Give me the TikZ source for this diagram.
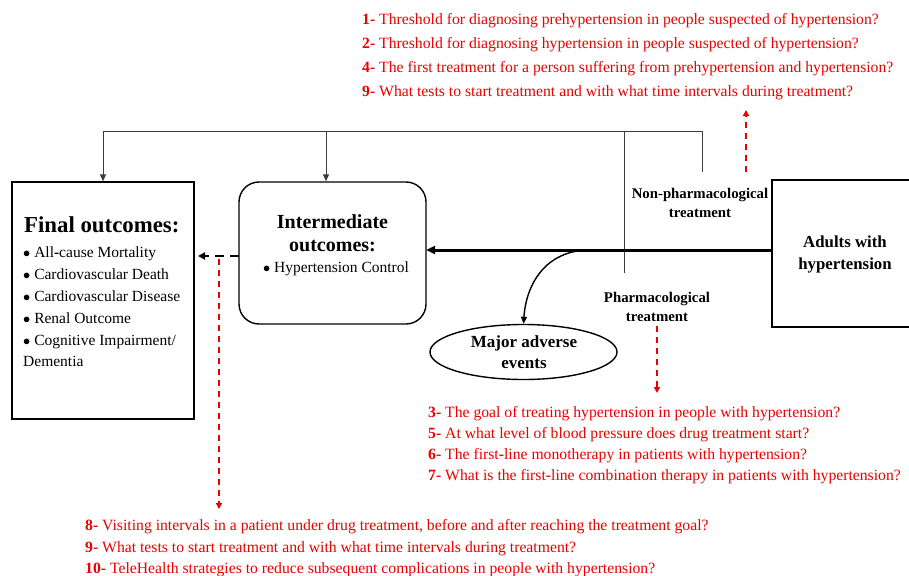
\documentclass[tikz,border=0pt]{standalone}
\usepackage{fontspec}
\setmainfont{Liberation Serif}
\usetikzlibrary{arrows.meta,shapes.geometric}
\definecolor{qred}{RGB}{235,0,0}
\definecolor{lgray}{RGB}{60,60,60}
\tikzset{
  qtext/.style={anchor=base west,inner sep=0pt,text=qred,font=\fontsize{15.7}{17}\selectfont},
  mtext/.style={anchor=base west,inner sep=0pt,text=qred,font=\fontsize{15.7}{17}\selectfont},
  btxt/.style={anchor=base west,inner sep=0pt,font=\fontsize{15.5}{17}\selectfont},
  boxline/.style={draw=black,line width=1.4pt},
  thin/.style={draw=lgray,line width=0.9pt},
  rdash/.style={draw=qred,line width=1.6pt,dash pattern=on 6pt off 5pt,-{Triangle[length=6pt,width=6pt]}},
  tip/.style={-{Triangle[length=7pt,width=6pt]}},
  lbl/.style={align=center,font=\bfseries\fontsize{14.8}{19}\selectfont,inner sep=0pt}
}
\newcommand{\bh}{\textbf{-}}
\begin{document}
\begin{tikzpicture}[x=1pt,y=-1pt]
\useasboundingbox (0,0) rectangle (909,575);
\fill[white] (0,0) rectangle (909,575);

% boxes
\node[boxline,rectangle,minimum width=182pt,minimum height=237pt,inner sep=0pt] (final) at (103,300.5) {};
\node[boxline,rectangle,rounded corners=20pt,minimum width=187pt,minimum height=142pt,inner sep=0pt] (inter) at (332.5,253) {};
\node[boxline,rectangle,minimum width=150pt,minimum height=147pt,inner sep=0pt] (adults) at (847,253.5) {};
\node[boxline,ellipse,minimum width=187pt,minimum height=55pt,inner sep=0pt] (ell) at (523.5,352) {};

% box texts
\node[anchor=base west,inner sep=0pt,font=\bfseries\fontsize{22.8}{24}\selectfont] (ftitle) at (24,232) {Final outcomes:};
\node[btxt] (f1) at (23,257) {$\bullet$ All\bh cause Mortality};
\node[btxt] (f2) at (23,279) {$\bullet$ Cardiovascular Death};
\node[btxt] (f3) at (23,301) {$\bullet$ Cardiovascular Disease};
\node[btxt] (f4) at (23,323) {$\bullet$ Renal Outcome};
\node[btxt] (f5) at (23,345) {$\bullet$ Cognitive Impairment/};
\node[btxt] (f6) at (23,366) {Dementia};

\node[align=center,inner sep=0pt,font=\bfseries\fontsize{20}{23}\selectfont] (ititle) at (332.5,233.5) {Intermediate\\outcomes:};
\node[btxt,anchor=base] (i1) at (336,272) {$\bullet$ Hypertension Control};

\node[lbl,font=\bfseries\fontsize{16.8}{22}\selectfont] (atxt) at (845,254) {Adults with\\hypertension};
\node[lbl] (nonph) at (700,202.5) {Non-pharmacological\\treatment};
\node[lbl] (pharm) at (657,306.5) {Pharmacological\\treatment};
\node[lbl,font=\bfseries\fontsize{17}{21}\selectfont] (etxt) at (524,352.5) {Major adverse\\events};

% top connectors
\coordinate (nt) at (702,172);
\coordinate (tr) at (702,131);
\coordinate (tl) at (103,131);
\coordinate (tm) at (326,131);
\coordinate (tp) at (624,131);
\coordinate (pb) at (624,273);
\draw[thin,tip] (nt) -- (tr) -- (tl) -- (final.north);
\draw[thin,tip] (tm) -- (inter.north-|tm);
\draw[thin] (tp) -- (pb);

% main arrow
\coordinate (ma) at (772,250);
\coordinate (mb) at (426,250);
\draw[line width=3pt,-{Triangle[length=9pt,width=8pt]}] (ma) -- (mb);
\coordinate (cs) at (590,250);
\draw[line width=1.4pt,tip] (cs) .. controls (545,250) and (526,285) .. (ell.north);

% dashed black
\coordinate (da) at (239,256);
\coordinate (db) at (198,256);
\draw[line width=2.6pt,dash pattern=on 9pt off 6pt,-{Triangle[length=7pt,width=7pt]}] (da) -- (db);

% red dashed
\coordinate (r1a) at (219,259);
\coordinate (r1b) at (219,509);
\draw[rdash] (r1a) -- (r1b);
\coordinate (r2a) at (657,326);
\coordinate (r2b) at (657,393);
\draw[rdash] (r2a) -- (r2b);
\coordinate (r3a) at (746,172);
\coordinate (r3b) at (746,110);
\draw[rdash] (r3a) -- (r3b);

% red questions top
\node[qtext] (q1) at (362,25) {\textbf{1-} Threshold for diagnosing prehypertension in people suspected of hypertension?};
\node[qtext] (q2) at (362,49) {\textbf{2-} Threshold for diagnosing hypertension in people suspected of hypertension?};
\node[qtext] (q4) at (362,73) {\textbf{4-} The first treatment for a person suffering from prehypertension and hypertension?};
\node[qtext] (q9) at (362,96) {\textbf{9-} What tests to start treatment and with what time intervals during treatment?};

% middle
\node[mtext] (q3) at (428,417) {\textbf{3-} The goal of treating hypertension in people with hypertension?};
\node[mtext] (q5) at (428,438) {\textbf{5-} At what level of blood pressure does drug treatment start?};
\node[mtext] (q6) at (428,459) {\textbf{6-} The first\bh line monotherapy in patients with hypertension?};
\node[mtext] (q7) at (428,480) {\textbf{7-} What is the first\bh line combination therapy in patients with hypertension?};

% bottom
\node[mtext] (q8) at (85,530) {\textbf{8-} Visiting intervals in a patient under drug treatment, before and after reaching the treatment goal?};
\node[mtext] (q9b) at (85,552) {\textbf{9-} What tests to start treatment and with what time intervals during treatment?};
\node[mtext] (q10) at (85,573) {\textbf{10-} TeleHealth strategies to reduce subsequent complications in people with hypertension?};
\end{tikzpicture}
\end{document}
